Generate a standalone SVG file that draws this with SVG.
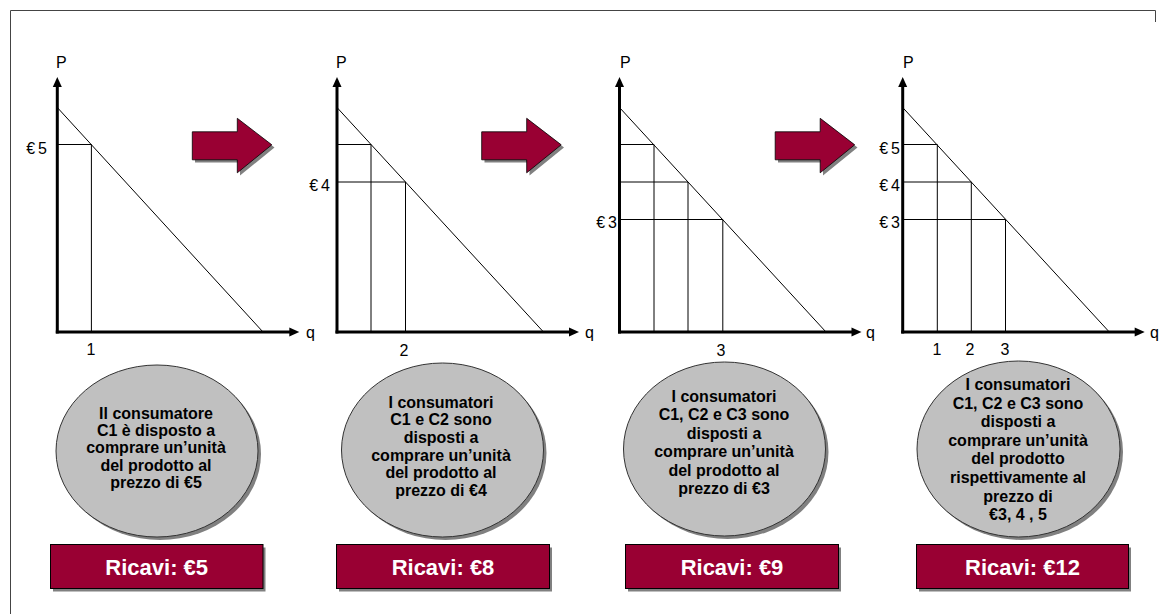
<svg xmlns="http://www.w3.org/2000/svg" width="1165" height="614" viewBox="0 0 1165 614">
<defs>
<style>
.ax{stroke:#000;stroke-width:3;fill:none}
.ah{fill:#000}
.ln{stroke:#000;stroke-width:1;fill:none}
.lbl{font-family:"Liberation Sans",Arial,sans-serif;font-size:16px;fill:#000}
.el{fill:#c0c0c0;stroke:#333;stroke-width:1}
.sh{fill:#808080}
.et{font-family:"Liberation Sans",Arial,sans-serif;font-size:16px;font-weight:bold;fill:#000;text-anchor:middle}
.bx{fill:#990033;stroke:#000;stroke-width:1}
.bt{font-family:"Liberation Sans",Arial,sans-serif;font-size:22px;font-weight:bold;fill:#fff;text-anchor:middle}
.ar{fill:#990033;stroke:#000;stroke-width:0.8}
</style>
<path id="blk" d="M0,13.5 H45 V0 L79.5,26.5 L45,54.5 V41.5 H0 Z"/>
</defs>
<rect width="1165" height="614" fill="#fff"/>
<g id="frame" stroke="#444" stroke-width="1" fill="none">
<path d="M10.5,614 V10.5 H1155.5 V22"/>
</g>

<g id="chart1">
<line class="ax" x1="57.3" y1="333.5" x2="57.3" y2="85"/>
<polygon class="ah" points="52.8,87 57.3,77 61.8,87"/>
<line class="ax" x1="55.8" y1="332" x2="291" y2="332"/>
<polygon class="ah" points="289.3,327.5 299.3,332 289.3,336.5"/>
<line class="ln" x1="57.3" y1="107.5" x2="263" y2="332"/>
<polyline class="ln" points="57.3,144.5 91.4,144.5 91.4,332"/>
<text class="lbl" x="56" y="68">P</text>
<text class="lbl" x="306" y="338">q</text>
<text class="lbl" x="47" y="154" text-anchor="end">€<tspan dx="3">5</tspan></text>
<text class="lbl" x="91" y="355" text-anchor="middle">1</text>
</g>

<g id="chart2">
<line class="ax" x1="337" y1="333.5" x2="337" y2="85"/>
<polygon class="ah" points="332.5,87 337,77 341.5,87"/>
<line class="ax" x1="335.5" y1="332" x2="571" y2="332"/>
<polygon class="ah" points="569,327.5 579,332 569,336.5"/>
<line class="ln" x1="337" y1="107.5" x2="543.5" y2="332"/>
<polyline class="ln" points="337,144.5 371,144.5 371,332"/>
<polyline class="ln" points="337,182 405.5,182 405.5,332"/>
<text class="lbl" x="336" y="68">P</text>
<text class="lbl" x="585" y="338">q</text>
<text class="lbl" x="330" y="191" text-anchor="end">€<tspan dx="3">4</tspan></text>
<text class="lbl" x="404" y="356" text-anchor="middle">2</text>
</g>

<g id="chart3">
<line class="ax" x1="619.5" y1="333.5" x2="619.5" y2="85"/>
<polygon class="ah" points="615,87 619.5,77 624,87"/>
<line class="ax" x1="618" y1="332" x2="853" y2="332"/>
<polygon class="ah" points="851.5,327.5 861.5,332 851.5,336.5"/>
<line class="ln" x1="619.5" y1="107.5" x2="826" y2="332"/>
<polyline class="ln" points="619.5,144.5 654,144.5 654,332"/>
<polyline class="ln" points="619.5,182 688,182 688,332"/>
<polyline class="ln" points="619.5,219.5 722.8,219.5 722.8,332"/>
<text class="lbl" x="620" y="68">P</text>
<text class="lbl" x="866" y="338">q</text>
<text class="lbl" x="617" y="228" text-anchor="end">€<tspan dx="3">3</tspan></text>
<text class="lbl" x="721" y="356" text-anchor="middle">3</text>
</g>

<g id="chart4">
<line class="ax" x1="902.7" y1="333.5" x2="902.7" y2="85"/>
<polygon class="ah" points="898.2,87 902.7,77 907.2,87"/>
<line class="ax" x1="901.2" y1="332" x2="1136" y2="332"/>
<polygon class="ah" points="1134.7,327.5 1144.7,332 1134.7,336.5"/>
<line class="ln" x1="902.7" y1="107.5" x2="1109.3" y2="332"/>
<polyline class="ln" points="902.7,144.5 937.3,144.5 937.3,332"/>
<polyline class="ln" points="902.7,182 971.3,182 971.3,332"/>
<polyline class="ln" points="902.7,219.5 1005.5,219.5 1005.5,332"/>
<text class="lbl" x="903" y="68">P</text>
<text class="lbl" x="1150" y="338">q</text>
<text class="lbl" x="900" y="154" text-anchor="end">€<tspan dx="3">5</tspan></text>
<text class="lbl" x="900" y="191" text-anchor="end">€<tspan dx="3">4</tspan></text>
<text class="lbl" x="900" y="228" text-anchor="end">€<tspan dx="3">3</tspan></text>
<text class="lbl" x="937" y="355" text-anchor="middle">1</text>
<text class="lbl" x="970" y="355" text-anchor="middle">2</text>
<text class="lbl" x="1005" y="355" text-anchor="middle">3</text>
</g>

<g id="arrow1">
<use href="#blk" class="sh" x="195" y="121"/>
<use href="#blk" class="ar" x="192.3" y="118.3"/>
</g>
<g id="arrow2">
<use href="#blk" class="sh" x="484.5" y="121"/>
<use href="#blk" class="ar" x="481.7" y="118.3"/>
</g>
<g id="arrow3">
<use href="#blk" class="sh" x="778" y="121"/>
<use href="#blk" class="ar" x="775.2" y="118.3"/>
</g>

<g id="bubble1">
<ellipse class="sh" cx="160" cy="454" rx="101" ry="86"/>
<ellipse class="el" cx="157" cy="451" rx="101" ry="86"/>
<text class="et"><tspan x="156" y="419">Il consumatore</tspan><tspan x="156" y="436">C1 è disposto a</tspan><tspan x="156" y="453">comprare un’unità</tspan><tspan x="156" y="470.5">del prodotto al</tspan><tspan x="156" y="487.5">prezzo di €5</tspan></text>
</g>
<g id="bubble2">
<ellipse class="sh" cx="445.5" cy="453" rx="101" ry="87"/>
<ellipse class="el" cx="442.5" cy="450" rx="101" ry="87"/>
<text class="et"><tspan x="441" y="407.7">I consumatori</tspan><tspan x="441" y="425.3">C1 e C2 sono</tspan><tspan x="441" y="443">disposti a</tspan><tspan x="441" y="460.7">comprare un’unità</tspan><tspan x="441" y="478.3">del prodotto al</tspan><tspan x="441" y="496">prezzo di €4</tspan></text>
</g>
<g id="bubble3">
<ellipse class="sh" cx="727.5" cy="452" rx="101" ry="87"/>
<ellipse class="el" cx="724.5" cy="449" rx="101" ry="87"/>
<text class="et"><tspan x="724" y="402">I consumatori</tspan><tspan x="724" y="420.4">C1, C2 e C3 sono</tspan><tspan x="724" y="438.8">disposti a</tspan><tspan x="724" y="457.2">comprare un’unità</tspan><tspan x="724" y="475.6">del prodotto al</tspan><tspan x="724" y="494">prezzo di €3</tspan></text>
</g>
<g id="bubble4">
<ellipse class="sh" cx="1021.5" cy="452" rx="101.5" ry="88"/>
<ellipse class="el" cx="1018.5" cy="449" rx="101.5" ry="88"/>
<text class="et"><tspan x="1018" y="390">I consumatori</tspan><tspan x="1018" y="408.6">C1, C2 e C3 sono</tspan><tspan x="1018" y="427.2">disposti a</tspan><tspan x="1018" y="445.8">comprare un’unità</tspan><tspan x="1018" y="464.4">del prodotto</tspan><tspan x="1018" y="483">rispettivamente al</tspan><tspan x="1018" y="501.6">prezzo di</tspan><tspan x="1018" y="520.2">€3, 4 , 5</tspan></text>
</g>

<g id="revenue1">
<rect class="sh" x="53" y="547.5" width="212.5" height="44"/>
<rect class="bx" x="50.5" y="544.5" width="212.5" height="44"/>
<text class="bt" x="156.7" y="575">Ricavi: €5</text>
</g>
<g id="revenue2">
<rect class="sh" x="339" y="547.5" width="213" height="44"/>
<rect class="bx" x="336.5" y="544.5" width="213" height="44"/>
<text class="bt" x="443" y="575">Ricavi: €8</text>
</g>
<g id="revenue3">
<rect class="sh" x="628" y="547.5" width="213" height="44"/>
<rect class="bx" x="625.5" y="544.5" width="213" height="44"/>
<text class="bt" x="732" y="575">Ricavi: €9</text>
</g>
<g id="revenue4">
<rect class="sh" x="919" y="547.5" width="212" height="44"/>
<rect class="bx" x="916.5" y="544.5" width="212" height="44"/>
<text class="bt" x="1022.5" y="575">Ricavi: €12</text>
</g>
</svg>
